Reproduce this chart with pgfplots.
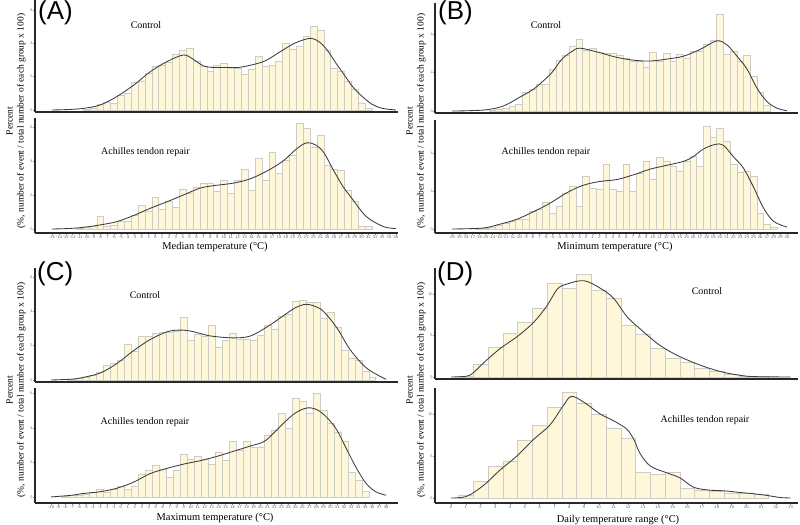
\documentclass[border=0pt]{standalone}
\usepackage{pgfplots}
\pgfplotsset{compat=1.18}
\usepackage{fontspec}
\setmainfont{Liberation Serif}
\setsansfont{Liberation Sans}
\definecolor{barfill}{RGB}{255,247,218}
\definecolor{bardraw}{RGB}{205,205,198}
\definecolor{axisdark}{RGB}{40,40,40}
\definecolor{curve}{RGB}{60,60,60}
\pgfplotsset{
  hist/.style={scale only axis, width=363bp,
    axis x line*=bottom, axis y line*=left,
    axis line style={-, draw=axisdark, line width=1.5bp},
    tick align=outside, major tick length=1.6bp,
    tick style={black!45, line width=0.4bp},
    /pgf/number format/assume math mode=true,
    yticklabel style={font=\sffamily\fontsize{3.8}{4}\selectfont, text=black!55, inner sep=0.6bp},
    xticklabel style={font=\sffamily\fontsize{4.2}{4.5}\selectfont, text=black!60, inner sep=1bp},
    anchor=south west},
  bars/.style={ybar, bar width=1, fill=barfill, draw=bardraw, line width=0.35bp},
  dens/.style={smooth, tension=0.55, line width=0.85bp, color=curve},
}
\newcommand{\ann}[1]{\fontsize{10}{12}\selectfont #1}
\begin{document}
\begin{tikzpicture}
\path[use as bounding box] (0,0) rectangle (800bp,525bp);

% ================= (A) =================
\begin{axis}[hist, at={(35bp,413bp)}, height=112bp,
  xmin=-17.47, xmax=35.3, ymin=-0.12, ymax=6.6, ytick={0,2,4,6}, xtick=\empty]
\addplot[bars] coordinates {(-10,0.05)(-9,0.1)(-8,0.35)(-7,0.45)(-6,0.4)(-5,0.9)(-4,1.0)(-3,1.65)(-2,1.75)(-1,2.2)(0,2.6)(1,2.7)(2,2.85)(3,3.35)(4,3.6)(5,3.7)(6,2.95)(7,2.6)(8,2.35)(9,2.7)(10,2.8)(11,2.55)(12,2.5)(13,2.15)(14,2.45)(15,3.2)(16,2.6)(17,2.7)(18,2.95)(19,4.0)(20,3.65)(21,3.85)(22,4.4)(23,5.0)(24,4.8)(25,3.6)(26,2.5)(27,2.35)(28,1.75)(29,1.25)(30,0.4)(31,0.1)};
\addplot[dens] coordinates {(-15,0)(-12.5,0.03)(-10.4,0.1)(-8,0.3)(-5.6,0.8)(-3.1,1.5)(-0.7,2.3)(1.7,2.9)(4.1,3.3)(5.5,3.05)(7,2.65)(8.5,2.55)(10,2.55)(12,2.55)(14,2.7)(16,2.95)(18,3.45)(20,3.95)(21.5,4.2)(22.7,4.3)(23.8,4.1)(25,3.6)(26.3,2.8)(27.5,2.1)(28.7,1.4)(30,0.85)(31.5,0.35)(33,0.1)(35,0)};
\end{axis}
\begin{axis}[hist, at={(35bp,292bp)}, height=115bp,
  xmin=-17.47, xmax=35.3, ymin=-0.235, ymax=6.53, ytick={0,2,4,6},
  xtick={-15,...,35},
  xticklabels={-15,-14,-13,-12,-11,-10,-9,-8,-7,-6,-5,-4,-3,-2,-1,0,1,2,3,4,5,6,7,8,9,10,11,12,13,14,15,16,17,18,19,20,21,22,23,24,25,26,27,28,29,30,31,32,33,34,35}]
\addplot[bars] coordinates {(-11,0.05)(-10,0.1)(-9,0.15)(-8,0.73)(-7,0.14)(-6,0.24)(-5,0.48)(-4,0.48)(-3,0.8)(-2,1.4)(-1,1.07)(0,1.86)(1,1.17)(2,1.62)(3,1.29)(4,2.36)(5,2.12)(6,2.48)(7,2.71)(8,2.71)(9,2.22)(10,2.85)(11,2.12)(12,2.85)(13,3.54)(14,2.26)(15,4.14)(16,2.85)(17,4.5)(18,3.3)(19,4.04)(20,4.36)(21,6.24)(22,5.92)(23,4.8)(24,5.54)(25,3.76)(26,3.54)(27,3.44)(28,2.26)(29,1.66)(30,0.14)(31,0.14)};
\addplot[dens] coordinates {(-15,0)(-12.5,0.03)(-10.4,0.1)(-8,0.24)(-5.6,0.43)(-3.1,0.8)(-0.7,1.22)(1.7,1.6)(4.1,2.0)(6.5,2.4)(8.5,2.55)(11.4,2.7)(13.8,2.95)(16.2,3.4)(18.6,4.0)(20.5,4.7)(22,5.07)(23.3,4.95)(24.5,4.5)(26,3.4)(27.3,2.5)(28.6,1.8)(30.7,0.73)(33.2,0.14)(35,0.03)};
\end{axis}
\node[font=\sffamily\fontsize{26}{28}\selectfont, anchor=north west, inner sep=0] at (38bp,524bp) {(A)};
\node at (146bp,500bp) {\ann{Control}};
\node at (145.5bp,373bp) {\ann{Achilles tendon repair}};
\node at (215bp,278bp) {\fontsize{10.5}{12}\selectfont Median temperature (°C)};
\node[rotate=90, align=center, font=\fontsize{9.5}{11}\selectfont] at (16bp,404bp) {Percent\\(\%, number of event / total number of each group x 100)};

% ================= (B) =================
\begin{axis}[hist, at={(435bp,412bp)}, height=110bp,
  xmin=-22.54, xmax=31.64, ymin=-0.1, ymax=5.62, ytick={0,2,4}, xtick=\empty]
\addplot[bars] coordinates {(-14,0.05)(-13,0.1)(-12,0.14)(-11,0.26)(-10,0.36)(-9,1.0)(-8,1.13)(-7,1.4)(-6,1.4)(-5,2.2)(-4,2.65)(-3,2.9)(-2,3.35)(-1,3.75)(0,3.15)(1,3.25)(2,3.05)(3,3.0)(4,3.0)(5,2.9)(6,2.75)(7,2.6)(8,2.6)(9,2.26)(10,3.04)(11,2.6)(12,3.0)(13,2.57)(14,2.95)(15,2.75)(16,3.1)(17,3.1)(18,3.5)(19,3.7)(20,5.05)(21,2.97)(22,3.1)(23,2.57)(24,2.9)(25,1.82)(26,1.0)(27,0.3)};
\addplot[dens] coordinates {(-20,0)(-15.4,0.05)(-12.9,0.2)(-11.5,0.4)(-10,0.7)(-8,1.1)(-6.6,1.5)(-5.1,2.0)(-3.6,2.7)(-2.1,3.1)(-0.9,3.27)(1.9,3.05)(4.5,2.8)(7,2.65)(9.5,2.6)(12,2.7)(14.5,2.85)(17,3.2)(19.5,3.65)(21,3.45)(22.3,2.95)(24,2.2)(25.5,1.2)(27,0.5)(28.5,0.15)(30,0.02)};
\end{axis}
\begin{axis}[hist, at={(435bp,292bp)}, height=113bp,
  xmin=-22.54, xmax=31.64, ymin=-0.21, ymax=5.73, ytick={0,2,4},
  xtick={-20,...,30},
  xticklabels={-20,-19,-18,-17,-16,-15,-14,-13,-12,-11,-10,-9,-8,-7,-6,-5,-4,-3,-2,-1,0,1,2,3,4,5,6,7,8,9,10,11,12,13,14,15,16,17,18,19,20,21,22,23,24,25,26,27,28,29,30}]
\addplot[bars] coordinates {(-16,0.03)(-15,0.05)(-14,0.12)(-13,0.2)(-12,0.3)(-11,0.4)(-10,0.5)(-9,0.5)(-8,0.95)(-7,1.05)(-6,1.4)(-5,0.85)(-4,1.2)(-3,1.9)(-2,2.25)(-1,1.2)(0,2.8)(1,2.15)(2,2.1)(3,3.4)(4,2.1)(5,2.0)(6,3.4)(7,2.0)(8,2.95)(9,3.55)(10,2.6)(11,3.75)(12,3.55)(13,3.3)(14,3.05)(15,3.55)(16,3.85)(17,3.3)(18,5.4)(19,4.85)(20,5.3)(21,4.6)(22,3.4)(23,3.0)(24,3.05)(25,2.8)(26,0.85)(27,0.25)(28,0.12)};
\addplot[dens] coordinates {(-20,0)(-15.4,0.05)(-12.9,0.25)(-10.4,0.5)(-7.9,0.9)(-5.4,1.35)(-2.9,1.9)(-0.4,2.3)(2.1,2.5)(4.6,2.6)(7.1,2.85)(9.6,3.15)(12.1,3.35)(14.5,3.55)(16,3.8)(17.5,4.2)(19.3,4.45)(20.5,4.4)(22,3.8)(23.5,3.2)(25,2.2)(26.5,1.1)(28,0.4)(30,0.1)};
\end{axis}
\node[font=\sffamily\fontsize{26}{28}\selectfont, anchor=north west, inner sep=0] at (438bp,524bp) {(B)};
\node at (546bp,500bp) {\ann{Control}};
\node at (546bp,373bp) {\ann{Achilles tendon repair}};
\node at (615bp,278bp) {\fontsize{10.5}{12}\selectfont Minimum temperature (°C)};
\node[rotate=90, align=center, font=\fontsize{9.5}{11}\selectfont] at (416bp,404bp) {Percent\\(\%, number of event / total number of each group x 100)};

% ================= (C) =================
\begin{axis}[hist, at={(35bp,143bp)}, height=114bp,
  xmin=-12.3, xmax=39.7, ymin=-0.116, ymax=6.51, ytick={0,2,4,6}, xtick=\empty]
\addplot[bars] coordinates {(-7,0.04)(-6,0.08)(-5,0.15)(-4,0.3)(-3,0.45)(-2,0.85)(-1,1.0)(0,1.15)(1,2.1)(2,1.65)(3,2.55)(4,2.55)(5,2.7)(6,2.8)(7,2.8)(8,2.85)(9,3.65)(10,2.3)(11,2.65)(12,2.56)(13,3.2)(14,1.92)(15,2.31)(16,2.74)(17,2.4)(18,2.37)(19,2.31)(20,2.6)(21,3.2)(22,2.95)(23,3.7)(24,3.8)(25,4.58)(26,4.64)(27,4.54)(28,4.5)(29,3.6)(30,3.95)(31,3.07)(32,1.75)(33,1.28)(34,1.15)(35,0.5)(36,0.15)};
\addplot[dens] coordinates {(-10,0)(-7,0.05)(-5.4,0.15)(-3,0.4)(-0.6,0.95)(1.8,1.7)(4.2,2.35)(6.6,2.8)(8.3,2.9)(9.9,2.85)(11.4,2.7)(13,2.55)(16,2.45)(18.5,2.55)(21,3.1)(23.4,3.77)(25,4.2)(26.5,4.4)(28,4.25)(29.1,3.96)(31,3.0)(32.9,1.73)(35.3,0.66)(38,0.04)};
\end{axis}
\begin{axis}[hist, at={(35bp,22bp)}, height=115bp,
  xmin=-12.3, xmax=39.7, ymin=-0.35, ymax=6.3, ytick={0,2,4,6},
  xtick={-10,...,38},
  xticklabels={-10,-9,-8,-7,-6,-5,-4,-3,-2,-1,0,1,2,3,4,5,6,7,8,9,10,11,12,13,14,15,16,17,18,19,20,21,22,23,24,25,26,27,28,29,30,31,32,33,34,35,36,37,38}]
\addplot[bars] coordinates {(-8,0.05)(-7,0.08)(-6,0.1)(-5,0.15)(-4,0.25)(-3,0.45)(-2,0.3)(-1,0.45)(0,0.62)(1,0.45)(2,0.6)(3,1.3)(4,1.55)(5,1.85)(6,1.6)(7,1.15)(8,1.55)(9,2.5)(10,2.2)(11,2.35)(12,2.2)(13,1.9)(14,2.6)(15,2.1)(16,3.2)(17,2.7)(18,3.2)(19,2.85)(20,2.85)(21,3.55)(22,3.85)(23,4.85)(24,4.0)(25,5.7)(26,5.55)(27,4.85)(28,6.0)(29,5.0)(30,4.25)(31,3.75)(32,3.2)(33,1.45)(34,0.95)(35,0.35)};
\addplot[dens] coordinates {(-10,0)(-7,0.1)(-5.4,0.2)(-3,0.3)(-0.6,0.5)(1.8,0.85)(4.2,1.35)(6.6,1.65)(9,1.9)(11.4,2.1)(13.8,2.35)(16.2,2.65)(18.6,2.95)(20.5,3.2)(21.9,3.7)(23.4,4.3)(24.8,4.8)(26.2,5.1)(27.2,5.15)(28.3,5.0)(29.5,4.6)(30.9,3.9)(32.3,2.8)(33.7,1.7)(35.1,0.8)(36.5,0.3)(38,0.1)};
\end{axis}
\node[font=\sffamily\fontsize{26}{28}\selectfont, anchor=north west, inner sep=0] at (37bp,263bp) {(C)};
\node at (145bp,230bp) {\ann{Control}};
\node at (145bp,103bp) {\ann{Achilles tendon repair}};
\node at (215bp,7bp) {\fontsize{10.5}{12}\selectfont Maximum temperature (°C)};
\node[rotate=90, align=center, font=\fontsize{9.5}{11}\selectfont] at (16bp,135bp) {Percent\\(\%, number of event / total number of each group x 100)};

% ================= (D) =================
\begin{axis}[hist, at={(435bp,146bp)}, height=111bp,
  xmin=-1.09, xmax=23.5, ymin=-0.24, ymax=13.13, ytick={0,5,10}, xtick=\empty]
\addplot[bars] coordinates {(1,0.1)(2,1.5)(3,3.6)(4,5.3)(5,6.65)(6,8.35)(7,11.3)(8,10.65)(9,12.4)(10,10.45)(11,9.55)(12,6.2)(13,5.1)(14,3.5)(15,2.3)(16,1.77)(17,1.1)(18,0.7)(19,0.35)(20,0.15)(21,0.05)};
\addplot[dens] coordinates {(0,0)(1.06,0.1)(1.5,0.5)(2.2,1.7)(3.3,3.4)(4.5,4.9)(5.6,6.6)(6.5,8.6)(7.2,10.6)(7.85,11.2)(9,11.6)(10.1,10.7)(11,9.5)(11.9,7.3)(12.8,5.8)(14,4.0)(15.1,2.8)(16.2,1.9)(17.4,1.1)(18.5,0.55)(19.6,0.2)(20.5,0.05)(23,0)};
\end{axis}
\begin{axis}[hist, at={(435bp,22bp)}, height=115bp,
  xmin=-1.09, xmax=23.5, ymin=-0.6, ymax=13.1, ytick={0,5,10},
  xtick={0,...,23},
  xticklabels={0,1,2,3,4,5,6,7,8,9,10,11,12,13,14,15,16,17,18,19,20,21,22,23}]
\addplot[bars] coordinates {(1,0.28)(2,2.0)(3,3.77)(4,4.44)(5,6.87)(6,8.65)(7,10.83)(8,12.66)(9,11.35)(10,9.96)(11,8.37)(12,7.14)(13,3.06)(14,2.82)(15,3.02)(16,1.15)(17,0.87)(18,0.75)(19,0.56)(20,0.56)(21,0.4)};
\addplot[dens] coordinates {(0,0)(1.06,0.2)(2.2,1.5)(3.3,3.3)(4.46,5.0)(5.6,7.0)(6.7,8.7)(7.6,11.0)(8.15,12.1)(9,11.4)(10.1,10.0)(11,9.2)(11.9,8.2)(12.4,6.9)(12.8,5.3)(13.5,3.8)(14.6,3.0)(15.5,2.4)(16.4,1.3)(17.4,0.95)(18.5,0.85)(19.6,0.65)(20.5,0.5)(21.4,0.3)(22.3,0.05)(23,0)};
\end{axis}
\node[font=\sffamily\fontsize{26}{28}\selectfont, anchor=north west, inner sep=0] at (437bp,263bp) {(D)};
\node at (707bp,234bp) {\ann{Control}};
\node at (705bp,105bp) {\ann{Achilles tendon repair}};
\node at (618bp,5bp) {\fontsize{10.5}{12}\selectfont Daily temperature range (°C)};
\node[rotate=90, align=center, font=\fontsize{9.5}{11}\selectfont] at (416bp,135bp) {Percent\\(\%, number of event / total number of each group x 100)};
\end{tikzpicture}
\end{document}
